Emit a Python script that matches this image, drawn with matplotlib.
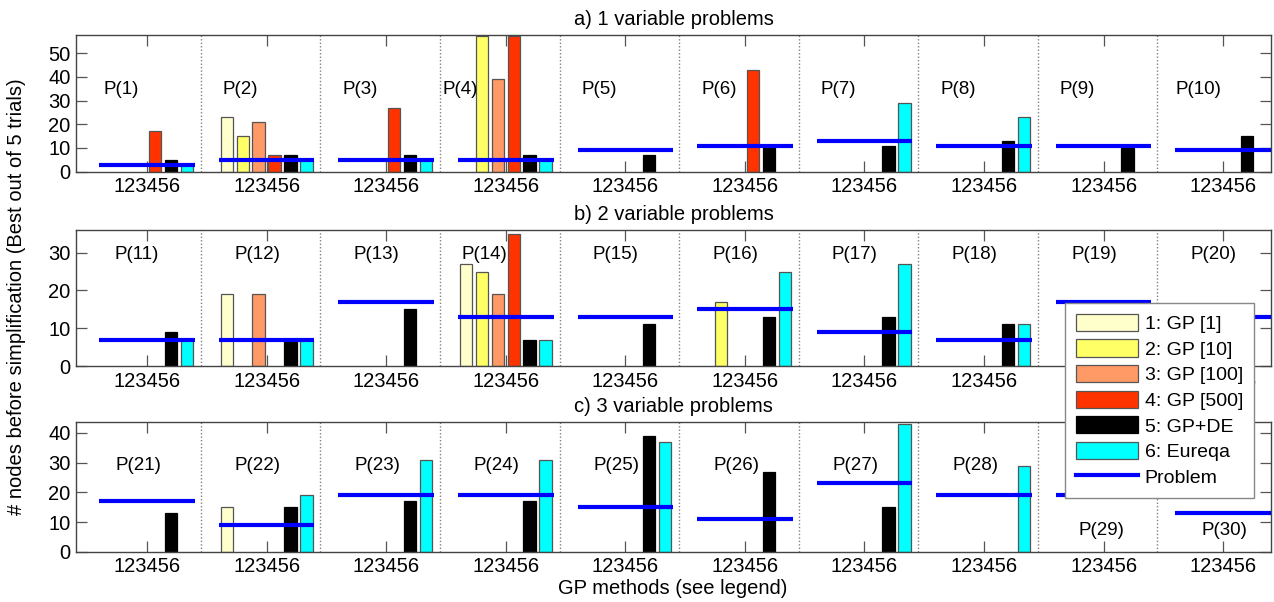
import matplotlib
matplotlib.use("Agg")
import matplotlib.pyplot as plt
from matplotlib.patches import Patch
from matplotlib.lines import Line2D
import numpy as np

plt.rcParams['font.family'] = ['Liberation Sans', 'DejaVu Sans']
FS_AX = 14.5
FS_P = 13.5
FS_LEG = 14

# ---------------- data (30 problems, 10 per panel) ----------------
methods = ["1: GP [1]", "2: GP [10]", "3: GP [100]", "4: GP [500]", "5: GP+DE", "6: Eureqa"]
method_colors = ["#FFFFCC", "#FFFF66", "#FF9966", "#FF3300", "#000000", "#00FFFF"]
problem_label = "Problem"
panel_titles = ["a) 1 variable problems", "b) 2 variable problems", "c) 3 variable problems"]
tick_label = "123456"

problem_size = [3, 5, 5, 5, 9, 11, 13, 11, 11, 9,
                7, 7, 17, 13, 13, 15, 9, 7, 17, 13,
                17, 9, 19, 19, 15, 11, 23, 19, 19, 13]
gp_1 = [0, 23, 0, 0, 0, 0, 0, 0, 0, 0,
        0, 19, 0, 27, 0, 0, 0, 0, 0, 0,
        0, 15, 0, 0, 0, 0, 0, 0, 0, 0]
gp_10 = [0, 15, 0, 57, 0, 0, 0, 0, 0, 0,
         0, 0, 0, 25, 0, 17, 0, 0, 0, 0,
         0, 0, 0, 0, 0, 0, 0, 0, 0, 0]
gp_100 = [0, 21, 0, 39, 0, 0, 0, 0, 0, 0,
          0, 19, 0, 19, 0, 0, 0, 0, 0, 0,
          0, 0, 0, 0, 0, 0, 0, 0, 0, 0]
gp_500 = [17, 7, 27, 57, 0, 43, 0, 0, 0, 0,
          0, 0, 0, 35, 0, 0, 0, 0, 0, 0,
          0, 0, 0, 0, 0, 0, 0, 0, 0, 0]
gp_de = [5, 7, 7, 7, 7, 10, 11, 13, 10, 15,
         9, 7, 15, 7, 11, 13, 13, 11, 0, 0,
         13, 15, 17, 17, 39, 27, 15, 0, 0, 0]
eureqa = [3, 5, 5, 5, 0, 0, 29, 23, 0, 0,
          7, 7, 0, 7, 0, 25, 27, 11, 0, 0,
          0, 19, 31, 31, 37, 0, 43, 29, 0, 0]
series = [gp_1, gp_10, gp_100, gp_500, gp_de, eureqa]

# ---------------- layout ----------------
W, H = 1274, 602
fig = plt.figure(figsize=(W / 100, H / 100), dpi=100)

def rect(left, top, right, bottom):
    return [left / W, 1 - bottom / H, (right - left) / W, (bottom - top) / H]

axes_px = [(76, 35, 1271, 171.7), (76, 230, 1271, 366), (76, 421.7, 1271, 551.7)]
ylims = [57.6, 36, 43.8]
yticks = [[0, 10, 20, 30, 40, 50], [0, 10, 20, 30], [0, 10, 20, 30, 40]]
label_y = [34.5, 29.4, 28.9]
label_dx_default = [-2.75, -2.04, -2.0]
label_dx_special = {3: -3.95, 9: -3.0, 13: -2.8, 28: -1.55, 29: -1.38}
label_y_special = {28: 7, 29: 7}

GROUP = 7.5
edge_gray = "#555555"

for p in range(3):
    ax = fig.add_axes(rect(*axes_px[p]))
    for g in range(10):
        k = p * 10 + g
        off = GROUP * g
        for j in range(6):
            v = series[j][k]
            if v > 0:
                ax.bar(off + j + 1, v, width=0.78, color=method_colors[j],
                       edgecolor=edge_gray if j != 4 else "#000000", linewidth=0.9, zorder=2)
        ax.hlines(problem_size[k], off + 0.5, off + 6.5, colors="#0000FF", linewidth=3, zorder=3)
        dx = label_dx_special.get(k, label_dx_default[p])
        ly = label_y_special.get(k, label_y[p])
        ax.text(off + 3.5 + dx, ly, f"P({k + 1})", fontsize=FS_P, ha="left", va="center", zorder=4)
        if g < 9:
            ax.axvline(off + 6.87, color="#808080", linestyle=(0, (1, 1.5)), linewidth=1.0, zorder=1)
    ax.set_xlim(-0.96, GROUP * 9 + 6.5)
    ax.set_ylim(0, ylims[p])
    ax.set_xticks([GROUP * g + 3.5 for g in range(10)])
    ax.set_xticklabels([tick_label] * 10, fontsize=FS_AX)
    ax.set_yticks(yticks[p])
    ax.set_yticklabels([str(t) for t in yticks[p]], fontsize=FS_AX)
    ax.tick_params(axis="both", direction="in", length=8, width=0.9, color="#555555",
                   top=True, right=True)
    ax.tick_params(axis="x", pad=4)
    ax.tick_params(axis="y", pad=4)
    for s in ax.spines.values():
        s.set_color("#444444")
        s.set_linewidth(1.0)
    ax.set_title(panel_titles[p], fontsize=FS_AX, pad=7)

fig.text(673 / W, 1 - 588 / H, "GP methods (see legend)", fontsize=FS_AX, ha="center", va="center")
fig.text(17 / W, 1 - 297 / H, "# nodes before simplification (Best out of 5 trials)",
         fontsize=FS_AX, ha="center", va="center", rotation=90)

handles = [Patch(facecolor=c, edgecolor=edge_gray if c != "#000000" else "#000000", linewidth=0.9)
           for c in method_colors]
handles.append(Line2D([0], [0], color="#0000FF", linewidth=3))
leg = fig.legend(handles, methods + [problem_label], loc="upper left",
                 bbox_to_anchor=(1065 / W, 1 - 303 / H), borderaxespad=0, fontsize=FS_LEG,
                 frameon=True, fancybox=False, edgecolor="#888888", framealpha=1,
                 handlelength=3.2, handleheight=0.98, handletextpad=0.35,
                 labelspacing=0.33, borderpad=0.55)
leg.get_frame().set_linewidth(1.0)

fig.savefig("out.png", dpi=100)
